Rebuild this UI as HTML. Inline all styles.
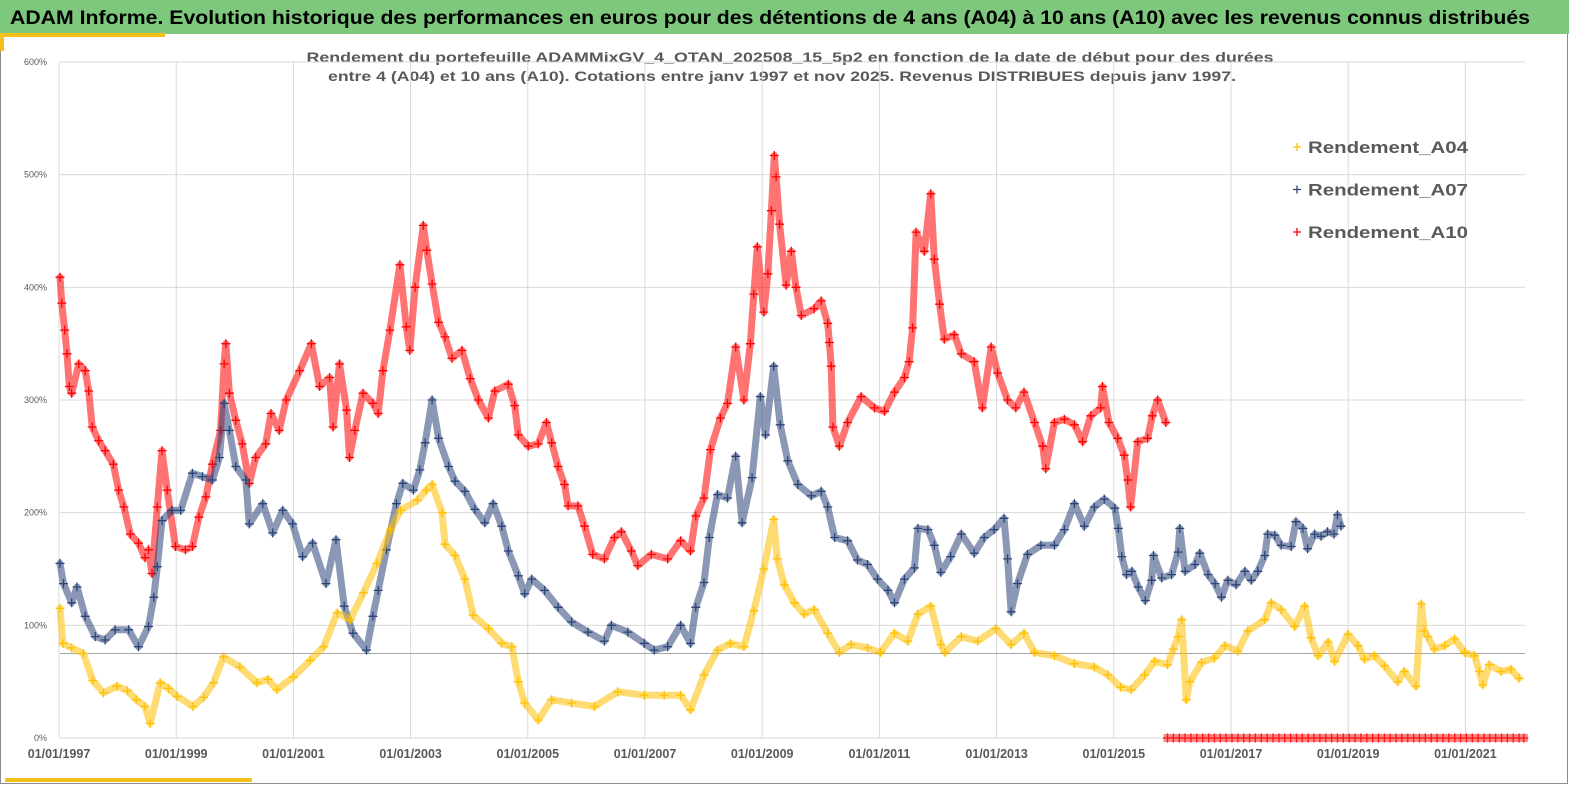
<!DOCTYPE html>
<html><head><meta charset="utf-8"><style>
html,body{margin:0;padding:0;background:#fff;}
svg{display:block;font-family:"Liberation Sans",sans-serif;}
</style></head><body>
<svg id="chart" width="1569" height="785" viewBox="0 0 1569 785">
<rect x="0" y="0" width="1569" height="785" fill="#ffffff"/>
<rect x="0.5" y="33.5" width="1567" height="750" fill="none" stroke="#8c8c8c" stroke-width="1"/>
<rect x="0" y="0" width="1569" height="34" fill="#7dc87d"/>
<text x="10" y="24" font-size="19.5" font-weight="bold" fill="#000" textLength="1520" lengthAdjust="spacingAndGlyphs">ADAM Informe. Evolution historique des performances en euros pour des détentions de 4 ans (A04) à 10 ans (A10) avec les revenus connus distribués</text>
<rect x="0" y="33" width="165" height="4" fill="#f5c01a"/>
<rect x="0" y="33" width="4" height="18" fill="#f5c01a"/>
<rect x="5" y="778" width="247" height="4" fill="#f5c01a"/>
<text x="790" y="62" font-size="14" font-weight="bold" fill="#595959" text-anchor="middle" textLength="967" lengthAdjust="spacingAndGlyphs">Rendement du portefeuille ADAMMixGV_4_OTAN_202508_15_5p2  en fonction de la date de début pour des durées</text>
<text x="782" y="81" font-size="14" font-weight="bold" fill="#595959" text-anchor="middle" textLength="908" lengthAdjust="spacingAndGlyphs">entre 4 (A04) et 10 ans (A10). Cotations  entre janv 1997 et nov 2025. Revenus DISTRIBUES depuis janv 1997.</text>
<g id="grid"></g>
<g id="axes"></g>
<g id="series"></g>
<g id="legend"></g>
</svg>
<script>
const yTicks = [0,100,200,300,400,500,600];
const yTickLabels = ["0%","100%","200%","300%","400%","500%","600%"];
const xTicks = [1997,1999,2001,2003,2005,2007,2009,2011,2013,2015,2017,2019,2021];
const xTickLabels = ["01/01/1997","01/01/1999","01/01/2001","01/01/2003","01/01/2005","01/01/2007","01/01/2009","01/01/2011","01/01/2013","01/01/2015","01/01/2017","01/01/2019","01/01/2021"];
const refLineValue = 75;
const seriesNames = ["Rendement_A04","Rendement_A07","Rendement_A10"];

const a04Dates = [1997.0,1997.05,1997.2,1997.4,1997.56,1997.74,1997.97,1998.15,1998.3,1998.45,1998.54,1998.71,1998.85,1999.0,1999.27,1999.45,1999.62,1999.79,2000.07,2000.36,2000.55,2000.7,2000.98,2001.27,2001.5,2001.73,2001.95,2002.18,2002.41,2002.64,2002.81,2003.1,2003.25,2003.35,2003.52,2003.57,2003.74,2003.91,2004.05,2004.31,2004.54,2004.71,2004.82,2004.93,2005.16,2005.39,2005.73,2006.12,2006.52,2006.97,2007.31,2007.59,2007.76,2007.99,2008.22,2008.44,2008.67,2008.84,2009.01,2009.18,2009.24,2009.36,2009.53,2009.7,2009.87,2010.1,2010.3,2010.5,2010.78,2011.0,2011.24,2011.47,2011.64,2011.86,2012.03,2012.1,2012.38,2012.66,2012.97,2013.23,2013.45,2013.63,2013.97,2014.31,2014.65,2014.88,2015.1,2015.28,2015.51,2015.68,2015.9,2016.0,2016.08,2016.14,2016.22,2016.28,2016.48,2016.7,2016.88,2017.1,2017.27,2017.56,2017.67,2017.84,2018.07,2018.24,2018.35,2018.47,2018.64,2018.75,2018.98,2019.15,2019.26,2019.43,2019.6,2019.83,2019.94,2020.14,2020.23,2020.28,2020.34,2020.45,2020.63,2020.8,2020.97,2021.14,2021.22,2021.28,2021.39,2021.59,2021.76,2021.9];
const a04Values = [115,84,80,75,51,40,46,42,34,28,13,49,44,37,28,36,49,72,63,49,52,43,54,69,81,111,105,129,155,185,202,211,220,225,200,172,162,141,109,97,84,81,50,31,16,34,31,28,41,38,38,38,25,56,78,84,81,113,150,194,159,136,120,110,114,93,76,83,80,76,93,86,110,117,83,76,90,86,97,83,93,76,73,66,63,56,45,43,56,68,65,79,90,105,34,50,67,71,82,77,95,105,120,114,99,117,89,73,85,68,92,82,70,73,64,50,59,46,119,95,90,79,82,88,76,73,59,47,65,59,61,53];

const a07Dates = [1997.0,1997.06,1997.2,1997.29,1997.43,1997.6,1997.77,1997.94,1998.17,1998.34,1998.51,1998.6,1998.66,1998.74,1998.91,1999.06,1999.26,1999.43,1999.6,1999.72,1999.8,1999.89,2000.0,2000.17,2000.23,2000.46,2000.63,2000.8,2000.97,2001.14,2001.31,2001.54,2001.71,2001.85,2002.0,2002.23,2002.34,2002.43,2002.57,2002.74,2002.85,2003.03,2003.14,2003.23,2003.35,2003.46,2003.63,2003.74,2003.91,2004.08,2004.25,2004.39,2004.54,2004.65,2004.82,2004.93,2005.05,2005.27,2005.5,2005.73,2006.01,2006.29,2006.41,2006.69,2006.97,2007.14,2007.37,2007.59,2007.76,2007.85,2007.99,2008.08,2008.22,2008.39,2008.53,2008.64,2008.81,2008.95,2009.04,2009.18,2009.29,2009.42,2009.59,2009.82,2009.99,2010.1,2010.22,2010.44,2010.61,2010.78,2010.95,2011.13,2011.24,2011.41,2011.58,2011.64,2011.81,2011.92,2012.03,2012.2,2012.38,2012.6,2012.77,2012.94,2013.11,2013.17,2013.23,2013.34,2013.51,2013.74,2013.97,2014.14,2014.31,2014.48,2014.65,2014.82,2015.0,2015.06,2015.12,2015.2,2015.29,2015.4,2015.52,2015.63,2015.66,2015.8,2015.97,2016.08,2016.11,2016.2,2016.37,2016.45,2016.59,2016.71,2016.82,2016.93,2017.07,2017.22,2017.33,2017.44,2017.56,2017.61,2017.73,2017.84,2018.01,2018.09,2018.21,2018.29,2018.41,2018.52,2018.63,2018.74,2018.8,2018.86];
const a07Values = [155,137,120,134,108,90,87,96,96,81,99,125,152,193,202,202,235,232,229,249,297,273,241,229,190,208,182,202,190,161,173,137,176,117,93,78,108,131,167,208,226,220,238,262,300,266,241,228,219,203,191,208,188,166,144,128,141,131,116,103,94,86,100,94,84,78,81,100,84,116,138,178,216,213,250,191,231,303,269,330,278,246,225,215,219,205,178,175,158,154,141,131,120,141,151,186,185,171,147,161,181,164,178,185,195,159,112,137,163,171,171,185,208,188,205,212,204,186,161,145,148,134,122,140,162,142,145,165,186,148,154,164,145,137,125,140,136,148,140,148,162,181,180,171,170,192,186,168,181,179,183,181,198,188];

const a10Dates = [1997.0,1997.03,1997.08,1997.12,1997.16,1997.2,1997.32,1997.43,1997.49,1997.55,1997.66,1997.77,1997.91,1998.0,1998.09,1998.2,1998.34,1998.45,1998.51,1998.57,1998.66,1998.74,1998.83,1998.97,1999.14,1999.26,1999.37,1999.49,1999.6,1999.74,1999.8,1999.83,1999.89,2000.0,2000.11,2000.23,2000.34,2000.51,2000.6,2000.74,2000.86,2001.09,2001.29,2001.43,2001.6,2001.66,2001.77,2001.89,2001.94,2002.03,2002.17,2002.34,2002.43,2002.51,2002.63,2002.8,2002.91,2002.97,2003.06,2003.2,2003.26,2003.35,2003.46,2003.57,2003.69,2003.86,2004.0,2004.14,2004.31,2004.42,2004.65,2004.76,2004.82,2004.99,2005.16,2005.3,2005.39,2005.5,2005.61,2005.67,2005.84,2005.95,2006.09,2006.29,2006.46,2006.58,2006.75,2006.86,2007.09,2007.37,2007.59,2007.76,2007.85,2007.99,2008.1,2008.27,2008.39,2008.53,2008.67,2008.78,2008.84,2008.9,2009.01,2009.08,2009.14,2009.19,2009.22,2009.28,2009.39,2009.48,2009.56,2009.65,2009.87,2009.99,2010.1,2010.13,2010.16,2010.19,2010.3,2010.44,2010.67,2010.9,2011.07,2011.24,2011.41,2011.49,2011.55,2011.61,2011.75,2011.86,2011.92,2012.01,2012.09,2012.26,2012.38,2012.6,2012.74,2012.89,2013.0,2013.17,2013.31,2013.45,2013.63,2013.77,2013.82,2013.97,2014.14,2014.31,2014.45,2014.59,2014.76,2014.79,2014.9,2015.05,2015.16,2015.22,2015.27,2015.39,2015.56,2015.64,2015.73,2015.87];
const a10Values = [409,386,362,341,312,306,332,326,308,276,264,255,243,220,205,181,173,160,167,146,205,255,220,170,167,170,196,214,243,273,332,350,306,282,261,226,249,261,288,273,300,326,350,312,320,276,332,291,249,273,306,297,288,326,362,420,365,344,400,455,433,403,369,356,337,344,319,300,284,308,314,295,269,259,261,280,262,241,225,206,206,188,163,159,178,183,166,153,163,159,175,166,197,213,256,284,297,347,300,350,394,436,378,412,468,517,498,456,402,432,400,375,381,388,368,351,330,276,259,280,303,293,290,307,320,334,364,449,432,483,425,385,354,358,341,334,293,347,324,300,293,307,280,259,239,280,283,278,263,286,293,312,280,266,251,229,205,263,266,286,300,280];

const a10TailDates = [2015.9,2016.0,2016.1,2016.2,2016.3,2016.4,2016.5,2016.6,2016.7,2016.8,2016.9,2017.0,2017.1,2017.2,2017.3,2017.4,2017.5,2017.6,2017.7,2017.8,2017.9,2018.0,2018.1,2018.2,2018.3,2018.4,2018.5,2018.6,2018.7,2018.8,2018.9,2019.0,2019.1,2019.2,2019.3,2019.4,2019.5,2019.6,2019.7,2019.8,2019.9,2020.0,2020.1,2020.2,2020.3,2020.4,2020.5,2020.6,2020.7,2020.8,2020.9,2021.0,2021.1,2021.2,2021.3,2021.4,2021.5,2021.6,2021.7,2021.8,2021.9,2021.98];
const a10TailValues = [0,0,0,0,0,0,0,0,0,0,0,0,0,0,0,0,0,0,0,0,0,0,0,0,0,0,0,0,0,0,0,0,0,0,0,0,0,0,0,0,0,0,0,0,0,0,0,0,0,0,0,0,0,0,0,0,0,0,0,0,0,0];

const NS = "http://www.w3.org/2000/svg";
const X0 = 60, X1 = 1525, D0 = 1997, D1 = 2022;
const Y0 = 738, Y1 = 62, V0 = 0, V1 = 600;
function xScale(d){ return X0 + (d - D0) / (D1 - D0) * (X1 - X0); }
function yScale(v){ return Y0 - (v - V0) / (V1 - V0) * (Y0 - Y1); }
function mk(tag, attrs){ const e = document.createElementNS(NS, tag); for (const k in attrs) e.setAttribute(k, attrs[k]); return e; }

const grid = document.getElementById('grid');
const axes = document.getElementById('axes');
yTicks.forEach((t, i) => {
  const y = yScale(t);
  const ln = mk('line', {x1: X0, x2: X1, y1: y, y2: y, stroke: '#d9d9d9', 'stroke-width': 1});
  
  
  grid.appendChild(ln);
  const tx = mk('text', {x: 47, y: y + 3, 'font-size': 9, fill: '#595959', 'text-anchor': 'end'});
  tx.textContent = yTickLabels[i];
  
  
  axes.appendChild(tx);
});
xTicks.forEach((t, i) => {
  const x = xScale(t) - 1;
  const ln = mk('line', {x1: x, x2: x, y1: Y1, y2: Y0, stroke: '#d9d9d9', 'stroke-width': 1});
  
  
  grid.appendChild(ln);
  const tx = mk('text', {x: x, y: 758, 'font-size': 12.5, 'font-weight': 'bold', fill: '#595959', 'text-anchor': 'middle'});
  tx.textContent = xTickLabels[i];
  
  
  axes.appendChild(tx);
});
const ref = mk('line', {x1: X0, x2: X1, y1: yScale(refLineValue), y2: yScale(refLineValue), stroke: '#a6a6a6', 'stroke-width': 1});


grid.appendChild(ref);

const series = document.getElementById('series');
function drawSeries(dates, values, color, name, withLine){
  const g = mk('g', {});
  
  
  if (withLine) {
    let d = '';
    for (let i = 0; i < dates.length; i++) {
      const jump = i > 0 && (dates[i] - dates[i-1] > 0.6);
      d += (i === 0 || jump ? 'M' : 'L') + xScale(dates[i]).toFixed(1) + ' ' + yScale(values[i]).toFixed(1) + ' ';
    }
    const p = mk('path', {d: d, fill: 'none', stroke: color, 'stroke-width': 7, 'stroke-opacity': 0.55, 'stroke-linejoin': 'round', 'stroke-linecap': 'round'});
    
    
    g.appendChild(p);
  }
  let md = '';
  for (let i = 0; i < dates.length; i++) {
    const x = xScale(dates[i]), y = yScale(values[i]);
    md += 'M' + (x - 4.5).toFixed(1) + ' ' + y.toFixed(1) + 'h9M' + x.toFixed(1) + ' ' + (y - 4.5).toFixed(1) + 'v9';
  }
  const m = mk('path', {d: md, fill: 'none', stroke: color, 'stroke-width': 1.3});
  
  
  g.appendChild(m);
  series.appendChild(g);
}
drawSeries(a10Dates, a10Values, '#ff0000', 'series-a10', true);
drawSeries(a10TailDates, a10TailValues, '#ff0000', 'series-a10-zero', false);
drawSeries(a07Dates, a07Values, '#2a4478', 'series-a07', true);
drawSeries(a04Dates, a04Values, '#ffc000', 'series-a04', true);
const band = mk('rect', {x: xScale(a10TailDates[0]) - 4, y: yScale(0) - 4, width: xScale(a10TailDates[a10TailDates.length-1]) - xScale(a10TailDates[0]) + 8, height: 8, fill: '#ff2020', 'fill-opacity': 0.55});


series.appendChild(band);

const legend = document.getElementById('legend');
const legendColors = ['#ffc000', '#2a4478', '#ff0000'];
seriesNames.forEach((n, i) => {
  const y = 147 + i * 42.5;
  const g = mk('g', {});
  
  
  const m = mk('path', {d: 'M1293 ' + y + 'h8M1297 ' + (y - 4) + 'v8', stroke: legendColors[i], 'stroke-width': 1.3});
  
  
  g.appendChild(m);
  const t = mk('text', {x: 1308, y: y + 6, 'font-size': 17, 'font-weight': 'bold', fill: '#595959', textLength: 160, lengthAdjust: 'spacingAndGlyphs'});
  t.textContent = n;
  
  
  g.appendChild(t);
  legend.appendChild(g);
});
</script>
</body></html>
